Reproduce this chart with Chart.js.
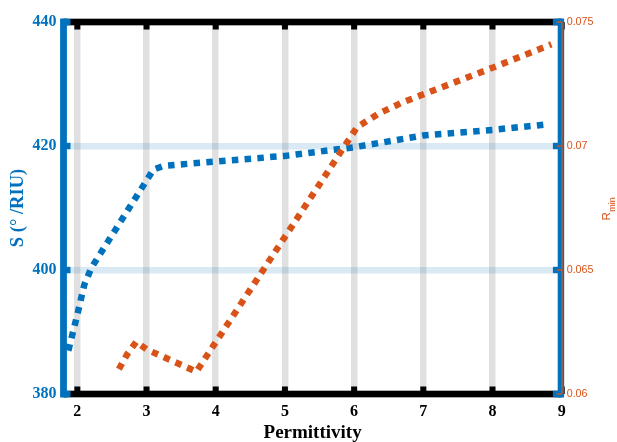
<!DOCTYPE html>
<html>
<head>
<meta charset="utf-8">
<script src="https://cdn.jsdelivr.net/npm/chart.js@4/dist/chart.umd.min.js"></script>
<style>
  body { margin: 0; background: #fff; }
  canvas { display: block; }
</style>
</head>
<body>
<canvas id="chart" width="617" height="442"></canvas>
<script>
// values
const permS = [1.87, 2.0, 2.1, 2.2, 3.1, 3.25, 4, 5, 6, 7, 8, 8.8];
const sensitivity = [387, 392.8, 397.6, 400.3, 416.2, 416.8, 417.5, 418.4, 419.8, 421.7, 422.6, 423.5];
const permR = [2.6, 2.72, 2.85, 3.0, 3.72, 6.04, 6.35, 6.7, 7.95, 8.85];
const rmin = [0.0610, 0.0616, 0.0621, 0.0618, 0.0609, 0.07075, 0.0713, 0.07176, 0.0731, 0.0741];

const xTicks = [2, 3, 4, 5, 6, 7, 8, 9];
const sTicks = [380, 400, 420, 440];
const rTicks = [0.06, 0.065, 0.07, 0.075];
const rTickLabels = ['0.06', '0.065', '0.07', '0.075'];

const BLUE = '#0072BD';
const ORANGE = '#D95319';
const SERIF = '"Liberation Serif", "Times New Roman", serif';
const SANS = '"Liberation Sans", Arial, sans-serif';

// axes box, tick marks and titles drawn on top of the plot
const frame = {
  id: 'frame',
  afterDatasetsDraw(chart) {
    const { ctx, chartArea: a, scales } = chart;
    const top = a.top, bot = a.bottom;
    ctx.save();

    // black top / bottom box lines
    ctx.fillStyle = '#000';
    ctx.fillRect(a.left, top - 3.3, a.right - a.left, 6.6);
    ctx.fillRect(a.left, bot - 3.3, a.right - a.left, 6.6);
    xTicks.forEach(v => {
      const px = scales.x.getPixelForValue(v);
      ctx.fillRect(px - 3, top, 6, 7.5);
      ctx.fillRect(px - 3, bot - 7.5, 6, 7.5);
    });

    // left blue axis
    ctx.fillStyle = BLUE;
    ctx.fillRect(a.left - 3.4, top - 3.5, 6.8, bot - top + 7);
    sTicks.forEach(v => {
      const py = scales.y.getPixelForValue(v);
      ctx.fillRect(a.left, py - 3.2, 7, 6.4);
    });

    // right blue axis
    const rx = a.right - 0.8;
    ctx.fillRect(rx - 3.2, top - 3.5, 6.4, bot - top + 7);
    sTicks.forEach(v => {
      const py = scales.y.getPixelForValue(v);
      ctx.fillRect(rx - 8, py - 3.2, 8, 6.4);
    });

    // thin orange right axis
    ctx.strokeStyle = ORANGE;
    ctx.lineWidth = 1.3;
    ctx.beginPath();
    ctx.moveTo(a.right + 0.3, top);
    ctx.lineTo(a.right + 0.3, bot);
    rTicks.forEach(v => {
      const py = scales.y1.getPixelForValue(v);
      ctx.moveTo(a.right + 0.3, py);
      ctx.lineTo(a.right - 5, py);
    });
    ctx.stroke();

    // titles
    ctx.fillStyle = BLUE;
    ctx.font = 'bold 18.5px ' + SERIF;
    ctx.textAlign = 'center';
    ctx.textBaseline = 'middle';
    ctx.translate(18.5, (top + bot) / 2);
    ctx.rotate(-Math.PI / 2);
    ctx.fillText('S (° /RIU)', 0, 0);
    ctx.setTransform(1, 0, 0, 1, 0, 0);

    ctx.fillStyle = '#000';
    ctx.font = 'bold 19px ' + SERIF;
    ctx.textBaseline = 'alphabetic';
    ctx.fillText('Permittivity', (a.left + a.right) / 2, 437.5);

    // R_min with subscript
    ctx.fillStyle = ORANGE;
    ctx.translate(609.5, 220.5);
    ctx.rotate(-Math.PI / 2);
    ctx.textAlign = 'left';
    ctx.font = '11.5px ' + SANS;
    ctx.fillText('R', 0, 0);
    const w = ctx.measureText('R').width;
    ctx.font = '9px ' + SANS;
    ctx.fillText('min', w + 0.5, 5.5);
    ctx.restore();
  }
};

new Chart(document.getElementById('chart').getContext('2d'), {
  type: 'line',
  data: {
    datasets: [{
      label: 'S',
      data: permS.map((x, i) => ({ x: x, y: sensitivity[i] })),
      yAxisID: 'y',
      borderColor: BLUE,
      borderWidth: 6.5,
      borderDash: [6.5, 6.3],
      borderCapStyle: 'butt',
      pointRadius: 0,
      fill: false,
      tension: 0,
      order: 2
    }, {
      label: 'Rmin',
      data: permR.map((x, i) => ({ x: x, y: rmin[i] })),
      yAxisID: 'y1',
      borderColor: ORANGE,
      borderWidth: 6.5,
      borderDash: [6.5, 6.3],
      borderCapStyle: 'butt',
      pointRadius: 0,
      fill: false,
      tension: 0,
      order: 1
    }]
  },
  options: {
    responsive: false,
    devicePixelRatio: 1,
    animation: false,
    layout: { padding: { top: 22, bottom: 0, left: 0, right: 0 } },
    plugins: {
      legend: { display: false },
      tooltip: { enabled: false }
    },
    scales: {
      x: {
        type: 'linear',
        min: 1.8,
        max: 9,
        afterBuildTicks: s => { s.ticks = xTicks.map(v => ({ value: v })); },
        afterFit: s => { s.height = 48; },
        ticks: {
          color: '#000',
          font: { family: SERIF, size: 16, weight: 'bold' },
          padding: 8,
          maxRotation: 0,
          autoSkip: false
        },
        grid: { color: 'rgba(0,0,0,0.12)', lineWidth: 6.5, drawTicks: false },
        border: { display: false }
      },
      y: {
        position: 'left',
        min: 380,
        max: 440,
        afterBuildTicks: s => { s.ticks = sTicks.map(v => ({ value: v })); },
        afterFit: s => { s.width = 63.5; },
        ticks: {
          color: BLUE,
          font: { family: SERIF, size: 16, weight: 'bold' },
          padding: 7
        },
        grid: { color: 'rgba(0,114,189,0.15)', lineWidth: 6.5, drawTicks: false },
        border: { display: false }
      },
      y1: {
        position: 'right',
        min: 0.06,
        max: 0.075,
        afterBuildTicks: s => { s.ticks = rTicks.map(v => ({ value: v })); },
        afterFit: s => { s.width = 55.3; },
        ticks: {
          color: ORANGE,
          font: { family: SANS, size: 10.7 },
          padding: 5,
          callback: (v, i) => rTickLabels[i]
        },
        grid: { display: false, drawTicks: false },
        border: { display: false }
      }
    }
  },
  plugins: [frame]
});
</script>
</body>
</html>
